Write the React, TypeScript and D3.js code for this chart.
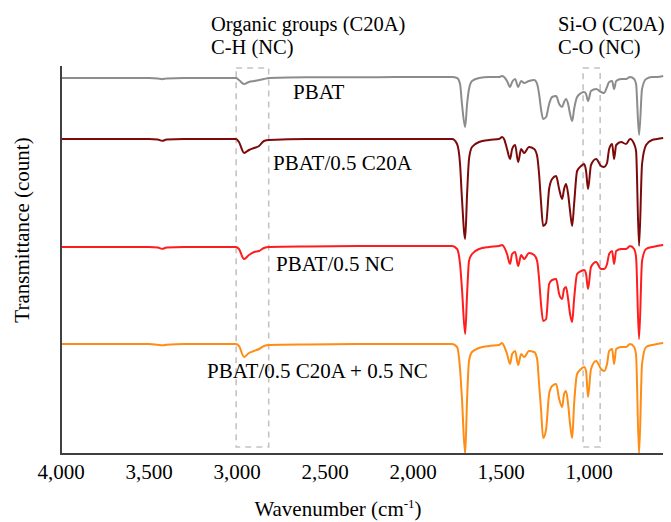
import React from 'react';
import * as d3 from 'd3';

// FTIR spectra (wavenumber in cm-1, transmittance in arbitrary counts, stacked)
const wavenumbers = [
  4000, 3700, 3500, 3450, 3426, 3400, 3300, 3100, 3006, 2989,
  2960, 2932, 2903, 2875, 2847, 2818, 2600, 2200, 2000,
  1824, 1778, 1750, 1733, 1722, 1704, 1693, 1682, 1665, 1625,
  1568, 1511, 1494, 1483, 1466, 1449, 1437, 1420, 1403, 1386,
  1369, 1341, 1312, 1295, 1284, 1273, 1261, 1244, 1227, 1210,
  1187, 1170, 1153, 1142, 1131, 1119, 1108, 1096, 1085, 1068,
  1045, 1028, 1017, 1006, 989, 960, 932, 915, 898, 886,
  869, 858, 846, 818, 790, 767, 744, 733, 716, 699,
  676, 642, 613, 579,
];

const pbat = [
  94, 94, 94, 93.9, 93.7, 93.9, 94, 94, 94, 93.5,
  92.5, 93, 93.25, 93.5, 93.75, 94, 94.2, 94.2, 94.25,
  94.25, 94.25, 94, 92.5, 87.5, 81.75, 87.5, 91.25, 93.25, 94,
  94.25, 94.25, 94.5, 94.25, 93.25, 91.75, 93, 93.75, 91.75, 93.25,
  92.75, 93.25, 93.5, 92.5, 90, 86.25, 83.75, 84.25, 87.5, 89.25,
  89.5, 87.5, 86.75, 88, 88.75, 87.5, 85, 83.25, 86.25, 89.25,
  90.25, 90.5, 90, 88.25, 90.75, 91.25, 90.5, 90.25, 91.75, 93,
  93.25, 91.25, 93.25, 93.75, 93.75, 94.25, 93.75, 92.5, 79.75, 91.25,
  93.75, 94.25, 94.25, 94.5,
];

const pbatC20A = [
  78.75, 78.75, 78.75, 78.6, 78.3, 78.6, 78.75, 78.75, 78.75, 78,
  75.25, 76, 76.5, 77, 78.25, 78.5, 78.75, 78.75, 78.75,
  78.75, 78.75, 77.5, 72.5, 63.75, 53.75, 65, 73.75, 76.75, 78,
  78.5, 78.75, 79.25, 78.75, 76.25, 73.75, 76.25, 77.25, 73, 76.25,
  75.25, 76.75, 76.25, 74.5, 70, 63, 57, 57.75, 66.25, 68.75,
  69.5, 66.25, 63.75, 66.25, 67.5, 65, 60.75, 57, 62.5, 70.75,
  72, 72.5, 70.75, 66.25, 72.25, 73.75, 72, 71.75, 72.75, 76.25,
  77.5, 73.75, 77.25, 78, 77.5, 78.75, 77.5, 75.75, 52, 72.5,
  77.25, 78.5, 78.75, 79,
];

const pbatNC = [
  51.75, 51.75, 51.75, 51.6, 51.3, 51.6, 51.75, 51.75, 51.75, 51.25,
  48.75, 49.75, 50.5, 50.75, 51.5, 51.75, 51.9, 52, 52,
  52, 52, 51.25, 47.5, 41.25, 30, 40, 48.25, 50, 51.25,
  51.75, 52, 52.25, 51.75, 50, 47.5, 50, 50.5, 47, 49.75,
  48.75, 50.25, 49.75, 48.25, 43.75, 37.5, 33.25, 33.75, 42.5, 43.5,
  43.75, 40, 38.75, 41.25, 41.75, 38.75, 35, 33, 38.75, 45,
  45.75, 46, 45, 41.25, 46.75, 48, 46.25, 46.25, 47.5, 50,
  50.75, 47.5, 50.75, 51.25, 51.25, 52, 51.25, 49.25, 28.75, 48.25,
  51.25, 51.75, 52, 52.25,
];

const pbatC20ANC = [
  27.5, 27.5, 27.5, 27.3, 27.2, 27.3, 27.5, 27.5, 27.5, 27,
  24.25, 25.25, 25.75, 26.25, 27, 27.25, 27.4, 27.5, 27.5,
  27.5, 27.5, 26.75, 21.25, 13.75, 0, 13.75, 23.25, 25.5, 26.5,
  27, 27.25, 27.75, 27, 25, 22.5, 25, 25.75, 22.25, 25,
  24.25, 25.75, 25.5, 23.75, 17.5, 11.25, 4, 6.25, 15, 17,
  17.5, 13.75, 11.75, 15, 15.75, 12.5, 7.5, 4, 12.5, 20,
  21.25, 21.75, 20.75, 14.25, 21.25, 23.25, 21.25, 20.75, 22.5, 25.75,
  26.25, 22.5, 26.25, 26.75, 26.75, 27.5, 26.75, 24.75, 0, 22.5,
  26.75, 27.25, 27.5, 27.75,
];

const seriesNames = ['PBAT', 'PBAT/0.5 C20A', 'PBAT/0.5 NC', 'PBAT/0.5 C20A + 0.5 NC'];
const seriesValues = [pbat, pbatC20A, pbatNC, pbatC20ANC];
const xTicks = [4000, 3500, 3000, 2500, 2000, 1500, 1000];

// marked bands (cm-1) and their notes
const bandRanges: [number, number][] = [[3005, 2820], [1034, 937]];
const bandNotes = [
  ['Organic groups (C20A)', 'C-H (NC)'],
  ['Si-O (C20A)', 'C-O (NC)'],
];

// layout
const W = 671;
const H = 522;
const colors = ['#8c8c8c', '#7d0a0a', '#ff1c1c', '#ff8c14'];
const labelAt: [number, number][] = [[2682, 88.75], [2795, 71], [2778, 45.75], [3170, 19]];
const noteX = [3148, 1176];
const FONT = '"Liberation Serif", "Times New Roman", Times, serif';

export default function App() {
  const x = d3.scaleLinear().domain([4000, 580]).range([61, 663]);
  const y = d3.scaleLinear().domain([0, 97]).range([454, 66]);

  const line = d3
    .line<number>()
    .x((_, i) => x(wavenumbers[i]))
    .y((d) => y(d))
    .curve(d3.curveMonotoneX);

  const fmt = d3.format(',');

  return (
    <div style={{ position: 'absolute', left: 0, top: 0 }}>
      <svg width={W} height={H} style={{ display: 'block', background: '#fff', fontFamily: FONT }}>
        {/* dashed band boxes */}
        {bandRanges.map(([a, b], i) => (
          <rect
            key={'band' + i}
            x={x(a)}
            y={y(96.5)}
            width={x(b) - x(a)}
            height={y(1.75) - y(96.5)}
            fill="none"
            stroke="#c4c4c4"
            strokeWidth={1.6}
            strokeDasharray="6 5"
          />
        ))}

        {/* spectra */}
        {seriesValues.map((vals, i) => (
          <path
            key={seriesNames[i]}
            d={line(vals) || ''}
            fill="none"
            stroke={colors[i]}
            strokeWidth={2}
            strokeLinejoin="round"
          />
        ))}

        {/* axes */}
        <line x1={x(4000)} x2={x(4000)} y1={y(97)} y2={y(0)} stroke="#404040" strokeWidth={2} />
        <line x1={x(4000) - 1} x2={x(580)} y1={y(0)} y2={y(0)} stroke="#404040" strokeWidth={2} />

        {xTicks.map((t) => (
          <text key={t} x={x(t)} y={479} textAnchor="middle" fontSize={21} fill="#000">
            {fmt(t)}
          </text>
        ))}

        <text x={338} y={516} textAnchor="middle" fontSize={21} fill="#000">
          Wavenumber (cm
          <tspan fontSize={13} dy={-8}>-1</tspan>
          <tspan dy={8}>)</tspan>
        </text>

        <text
          transform={`translate(29,${230}) rotate(-90)`}
          textAnchor="middle"
          fontSize={21}
          fill="#000"
        >
          Transmittance (count)
        </text>

        {/* series labels */}
        {seriesNames.map((name, i) => (
          <text key={'lbl' + name} x={x(labelAt[i][0])} y={y(labelAt[i][1])} fontSize={21} fill="#000">
            {name}
          </text>
        ))}

        {/* band notes */}
        {bandNotes.map((lines, i) => (
          <g key={'note' + i}>
            <text x={x(noteX[i])} y={31} fontSize={20.5} fill="#000">
              {lines[0]}
            </text>
            <text x={x(noteX[i])} y={53.8} fontSize={20.5} fill="#000">
              {lines[1]}
            </text>
          </g>
        ))}
      </svg>
    </div>
  );
}
